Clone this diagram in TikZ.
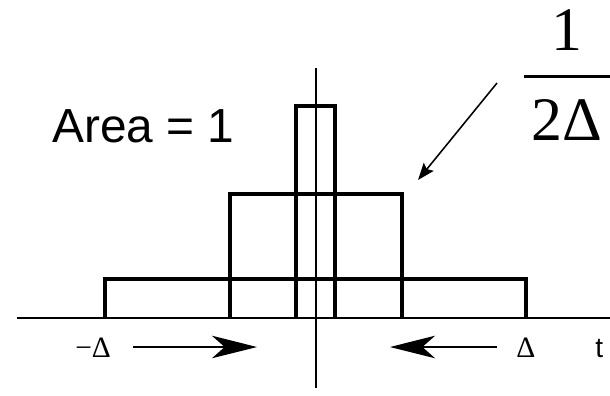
\documentclass[tikz,border=0pt]{standalone}
\usepackage{fontspec}
\setmainfont{Liberation Serif}
\setsansfont{Liberation Sans}
\usetikzlibrary{
    arrows.meta,
    calc
}
\tikzset{
    % --- Rectangular pulse (drawn on the axis) ---
    pulse/.style = {
        line width=2.8pt, line join=miter
    },
    % --- Coordinate axes ---
    axis line/.style = {
        line width=1.4pt
    },
    % --- Big arrows squeezing the pulse ---
    squeeze arrow/.style = {
        line width=1.8pt,
        -{Stealth[length=32pt, width=16pt, inset=9pt]}
    },
    % --- Thin arrow pointing to the height label ---
    pointer arrow/.style = {
        line width=1.1pt,
        -{Stealth[length=12pt, width=9pt, inset=2pt]}
    },
    % --- Axis labels (serif) ---
    tick label/.style = {
        font=\fontsize{21}{24}\selectfont, inner sep=0pt
    },
    % --- Sans labels ---
    note/.style = {
        font=\sffamily\fontsize{34}{40}\selectfont, inner sep=0pt
    }
}

\begin{document}
\begin{tikzpicture}[x=0.025cm, y=-0.025cm]

\useasboundingbox (0,0) rectangle (610,395);

% ---------------------------------------------------------
% Axes
% ---------------------------------------------------------
\coordinate (TStart) at (17,318);
\coordinate (TEnd)   at (610,318);
\coordinate (YTop)   at (316,68);
\coordinate (YBot)   at (316,388);
\draw[axis line] (TStart) -- (TEnd);
\draw[axis line] (YBot) -- (YTop);

% ---------------------------------------------------------
% Pulses of area 1 (wide, medium, narrow)
% ---------------------------------------------------------
\foreach \xl/\xr/\ytop in {105/526/279, 230/402/194, 296/335/106}
    \draw[pulse] (\xl,318) |- (\xr,\ytop) -- (\xr,318);

% ---------------------------------------------------------
% Labels
% ---------------------------------------------------------
\node[note, anchor=base west] (Area) at (52,142) {Area = 1};

\node[anchor=base, inner sep=0pt] (Height) at (567,140) {%
    \fontsize{44}{44}\selectfont\setlength{\arrayrulewidth}{2pt}%
    \begin{tabular}[b]{@{\hspace{5.7pt}}c@{\hspace{5.7pt}}}
        \rule[-18pt]{0pt}{0pt}1\\\hline
        \rule{0pt}{44pt}2Δ
    \end{tabular}};

\node[tick label, anchor=base west] (MinusDelta) at (75,357) {−Δ};
\node[tick label, anchor=base west] (PlusDelta)  at (516,357) {Δ};
\node[tick label, font=\sffamily\fontsize{20}{24}\selectfont,
    anchor=base west] (TLabel) at (595,357) {t};

% ---------------------------------------------------------
% Arrows
% ---------------------------------------------------------
\coordinate (LeftTail)  at (133,347);
\coordinate (LeftTip)   at (257,347);
\coordinate (RightTail) at (497,347);
\coordinate (RightTip)  at (390,347);
\draw[squeeze arrow] (LeftTail) -- (LeftTip);
\draw[squeeze arrow] (RightTail) -- (RightTip);

\coordinate (PointTail) at (497,83);
\coordinate (PointTip)  at (418,180);
\draw[pointer arrow] (PointTail) -- (PointTip);

\end{tikzpicture}
\end{document}
